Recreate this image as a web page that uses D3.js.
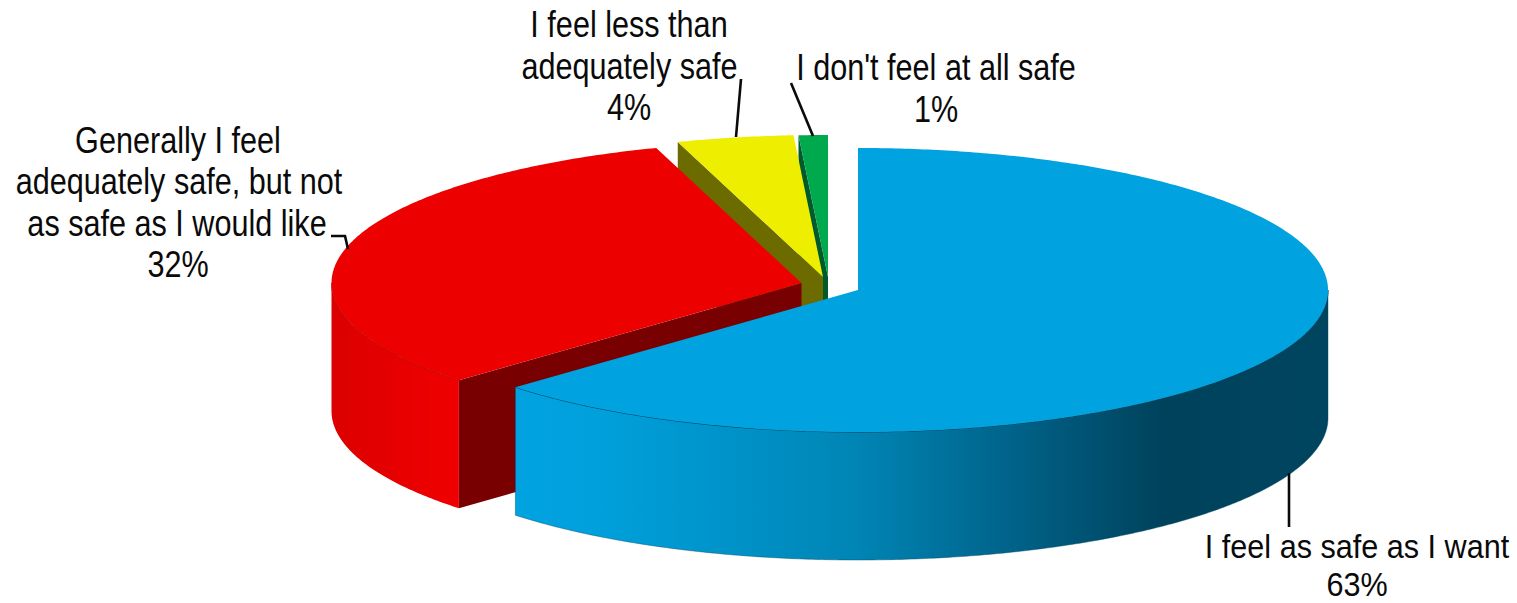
<!DOCTYPE html>
<html>
<head>
<meta charset="utf-8">
<script src="https://cdnjs.cloudflare.com/ajax/libs/d3/7.8.5/d3.min.js"></script>
<style>
html,body{margin:0;padding:0;background:#fff;overflow:hidden}
svg{display:block}
text{font-family:"Liberation Sans",Arial,sans-serif;font-size:30.6px;fill:#0a0a0a}
</style>
</head>
<body>
<svg id="chart" width="1517" height="603"></svg>
<script>
const categories = ["I feel as safe as I want","Generally I feel adequately safe, but not as safe as I would like","I feel less than adequately safe","I don't feel at all safe"];
const values = [63, 32, 4, 1];
const percentLabels = ["63%", "32%", "4%", "1%"];
const labelLines = [
  ["I feel as safe as I want"],
  ["Generally I feel", "adequately safe, but not", "as safe as I would like"],
  ["I feel less than", "adequately safe"],
  ["I don't feel at all safe"]
];

const W = 1517, H = 603;
const svg = d3.select("#chart");
const RX = 470, RY = 142, DEPTH = 128;
const centers = [[858,290],[801.5,283],[823,277],[828,277]];
const topColors = ["#00a2e0","#ec0000","#eeee00","#00a84e"];
const faceColors = ["#004560","#780000","#6b6b00","#005a2c"];
const labelAnchor = [
  {x:1357,y:558,dy:37.5,sy:1.1},
  {x:178,y:153,dy:41.3,sy:1.19},
  {x:629,y:37,dy:41.7,sy:1.19},
  {x:936,y:80,dy:42,sy:1.19}
];
const lineOffsets = [[0],[0,1,-1],[0,0.5],[0]];
const leaders = [
  [[1289,473],[1289,527]],
  [[331,236],[345,236],[348,249]],
  [[741,79],[736,137]],
  [[791,83],[813,136]]
];

const unitX = d3.scaleLinear().domain([-1,1]).range([-RX,RX]);
const unitY = d3.scaleLinear().domain([-1,1]).range([-RY,RY]);
const pie = d3.pie().sort(null).startAngle(0).endAngle(2*Math.PI)(values);
const line = d3.line();

function rim(i, a0, a1, dz){
  const n = Math.max(2, Math.ceil(Math.abs(a1-a0)/0.01));
  return d3.range(n+1).map(k=>{
    const a = a0+(a1-a0)*k/n;
    return [centers[i][0]+unitX(Math.sin(a)), centers[i][1]-unitY(Math.cos(a))+dz];
  });
}

const defs = svg.append("defs");
const blueGrad = defs.append("linearGradient").attr("id","wall0").attr("gradientUnits","userSpaceOnUse")
  .attr("x1",516).attr("x2",1328).attr("y1",0).attr("y2",0);
[[0,"#00a2e0"],[0.103,"#00a0dc"],[0.42,"#0085b5"],[0.608,"#00638a"],[0.797,"#00425c"],[1,"#004560"]]
  .forEach(s=>blueGrad.append("stop").attr("offset",s[0]).attr("stop-color",s[1]));
const redGrad = defs.append("linearGradient").attr("id","wall1").attr("gradientUnits","userSpaceOnUse")
  .attr("x1",333).attr("x2",458).attr("y1",0).attr("y2",0);
[[0,"#dc0000"],[0.5,"#e60000"],[1,"#f00000"]]
  .forEach(s=>redGrad.append("stop").attr("offset",s[0]).attr("stop-color",s[1]));

const g = svg.append("g");
[3,2,1,0].forEach(i=>{
  const d = pie[i];
  const c = centers[i];
  const edge = rim(i,d.startAngle,d.startAngle,0)[0];
  // cut face at the start angle
  g.append("path")
    .attr("d", line([c, edge, [edge[0],edge[1]+DEPTH], [c[0],c[1]+DEPTH]])+"Z")
    .attr("fill", faceColors[i]);
  // outer wall: the visible front half only
  const a0 = Math.max(d.startAngle, Math.PI/2), a1 = Math.min(d.endAngle, 3*Math.PI/2);
  if (a1 > a0) {
    const upper = rim(i,a0,a1,0), lower = rim(i,a1,a0,DEPTH);
    g.append("path").attr("d", line(upper.concat(lower))+"Z")
      .attr("fill", `url(#wall${i})`)
      .attr("stroke", i===0 ? "#00445f" : "none").attr("stroke-width",0.6).attr("stroke-opacity",0.7);
    g.append("path").attr("d", line(upper)).attr("fill","none")
      .attr("stroke", i===0 ? "#00445f" : "#8a0000").attr("stroke-width",0.8);
  }
  // top surface
  g.append("path")
    .attr("d", line([c].concat(rim(i,d.startAngle,d.endAngle,0)))+"Z")
    .attr("fill", topColors[i]);
});

// leader lines
svg.append("g").selectAll("path").data(leaders).join("path")
  .attr("d", d=>line(d)).attr("fill","none").attr("stroke","#0a0a0a").attr("stroke-width",2.6);

// labels
const labels = svg.append("g");
labelLines.forEach((lines,i)=>{
  const a = labelAnchor[i];
  lines.concat([percentLabels[i]]).forEach((t,k)=>{
    const off = k<lines.length ? lineOffsets[i][k] : 0;
    labels.append("text")
      .attr("text-anchor","middle")
      .attr("transform",`translate(${a.x+off},${a.y+k*a.dy}) scale(1,${a.sy})`)
      .text(t);
  });
});
</script>
</body>
</html>
